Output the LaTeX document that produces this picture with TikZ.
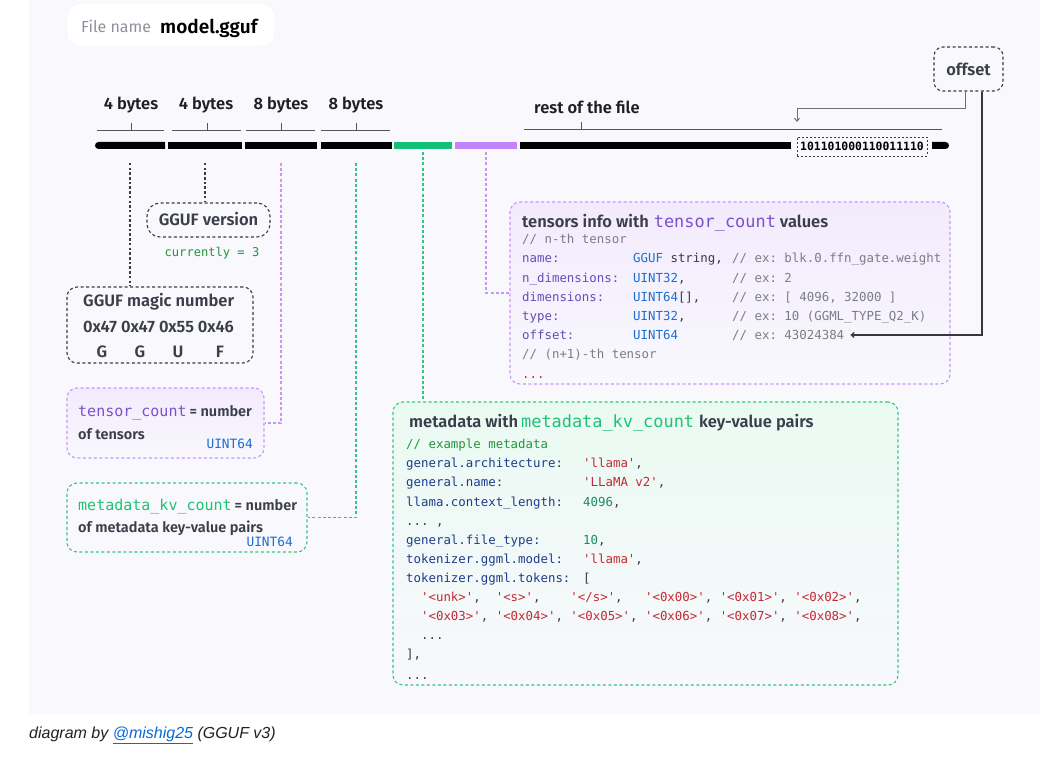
\documentclass[tikz,border=0pt]{standalone}
\usepackage{fontspec}
\IfFontExistsTF{Fira Sans SemiBold}{\setmainfont{Fira Sans}[BoldFont={Fira Sans SemiBold}]}{\setmainfont{Fira Sans}}
\setmonofont{DejaVu Sans Mono}
\newfontfamily\capfont{Liberation Sans}
\usetikzlibrary{arrows.meta,shapes.misc}
\definecolor{bgpanel}{RGB}{248,248,253}
\definecolor{txt}{RGB}{58,62,72}
\definecolor{lbltxt}{RGB}{30,32,38}
\definecolor{graytxt}{RGB}{140,145,155}
\definecolor{dkgray}{RGB}{60,60,66}
\definecolor{brkgray}{RGB}{85,85,90}
\definecolor{purp}{RGB}{192,132,252}
\definecolor{purpline}{RGB}{200,150,250}
\definecolor{purptxt}{RGB}{125,80,205}
\definecolor{purptint}{RGB}{243,235,253}
\definecolor{grn}{RGB}{18,192,122}
\definecolor{grnline}{RGB}{50,200,130}
\definecolor{grntxt}{RGB}{30,195,115}
\definecolor{grntint}{RGB}{234,250,242}
\definecolor{typeblue}{RGB}{30,110,205}
\definecolor{keypurp}{RGB}{100,78,185}
\definecolor{keyblue}{RGB}{30,60,140}
\definecolor{cmt}{RGB}{125,125,132}
\definecolor{codedark}{RGB}{55,58,66}
\definecolor{strred}{RGB}{195,40,52}
\definecolor{numgrn}{RGB}{25,140,95}
\definecolor{cmtgrn}{RGB}{35,150,60}
\definecolor{linkblue}{RGB}{9,105,218}
\definecolor{captxt}{RGB}{34,34,38}
\definecolor{ln1}{RGB}{110,110,115}
\definecolor{ln2}{RGB}{55,55,60}
\newcommand\hfont{\fontsize{16.5}{20}\selectfont\bfseries}
\newcommand\cfont{\fontsize{12.4}{15}\selectfont\ttfamily\frenchspacing}
\newcommand\titlemono{\fontsize{16.9}{20}\selectfont\ttfamily\mdseries}
\newcommand\boxmono{\fontsize{15}{18}\selectfont\ttfamily\mdseries}
\newcommand\boxsans{\fontsize{14.5}{17}\selectfont\bfseries}
\newcommand\tkey[1]{\makebox[111pt][l]{\color{keypurp}#1}}
\newcommand\ttype[2]{\makebox[99pt][l]{\color{typeblue}#1\color{codedark}#2}}
\newcommand\tcmt[1]{{\color{cmt}#1}}
\newcommand\mkey[1]{\makebox[177pt][l]{\color{keyblue}#1}}
\newcommand\mstr[1]{{\color{strred}#1}}
\newcommand\mnum[1]{{\color{numgrn}#1}}
\begin{document}
\begin{tikzpicture}[x=1pt,y=-1pt,
  seg/.style={rectangle, inner sep=0pt, outer sep=0pt, minimum height=7pt, fill=black},
  brk/.style={draw=brkgray, line width=0.9pt},
  lbl/.style={font=\hfont, text=lbltxt, inner sep=0pt, text height=11.4pt, text depth=0pt},
  head/.style={font=\hfont, text=txt, inner sep=0pt, text height=11.4pt, text depth=0pt},
  code/.style={font=\cfont, text=codedark, inner sep=0pt, text height=9pt, text depth=0pt, anchor=west},
  small/.style={inner sep=0pt, text=txt, text height=10.4pt, text depth=0pt, anchor=west},
  box/.style={rectangle, rounded corners=10pt, inner sep=0pt, line width=1.1pt, dash pattern=on 3pt off 2.5pt},
  blkbox/.style={box, draw=dkgray},
  purbox/.style={box, draw=purpline, top color=purptint, bottom color=bgpanel},
  grnbox/.style={box, draw=grnline, top color=grntint, bottom color=bgpanel},
  blkdash/.style={draw=dkgray, line width=1.2pt, dash pattern=on 2.5pt off 2.2pt},
  purdash/.style={draw=purpline, line width=1.4pt, dash pattern=on 3pt off 2.2pt},
  grndash/.style={draw=grnline, line width=1.4pt, dash pattern=on 3pt off 2.2pt},
  tip/.style={-{Straight Barb[length=3pt,width=5pt]}}
]
\useasboundingbox (0,0) rectangle (1064,759);
\fill[white] (0,0) rectangle (1064,759);
\fill[bgpanel] (29,0) rectangle (1040,714);

% file name
\node[fill=white, draw=black!4, rounded corners=13pt, minimum width=208pt, minimum height=43pt, inner sep=0pt] (fnbox) at (171,25) {};
\node[inner sep=0pt, anchor=west, text=graytxt, font=\fontsize{16}{19}\selectfont\mdseries, text height=11.4pt, text depth=0pt] (fnl) at (81,27) {File name};
\node[inner sep=0pt, anchor=west, text=black, font=\fontsize{19}{22}\selectfont\bfseries, text height=13.6pt, text depth=0pt] (fnv) at (160,27) {model.gguf};

% byte labels and brackets
\node[lbl] (b1) at (131,104) {4 bytes};
\node[lbl] (b2) at (206,104) {4 bytes};
\node[lbl] (b3) at (281,104) {8 bytes};
\node[lbl] (b4) at (356,104) {8 bytes};
\node[lbl, anchor=west] (rest) at (534,108) {rest of the file};
\draw[brk] (97,130) -- (164,130) (131,130) -- (131,123);
\draw[brk] (172,130) -- (241,130) (207,130) -- (207,123);
\draw[brk] (246,130) -- (315,130) (281,130) -- (281,123);
\draw[brk] (321,130) -- (390,130) (356,130) -- (356,123);
\draw[brk] (524,129) -- (942,129) (581,129) -- (581,122);

% the bar
\node[seg, rounded rectangle, rounded rectangle right arc=none, minimum width=70pt] (seg1) at (130,145.5) {};
\node[seg, minimum width=74pt] (seg2) at (205,145.5) {};
\node[seg, minimum width=72pt] (seg3) at (281,145.5) {};
\node[seg, minimum width=71pt] (seg4) at (356,145.5) {};
\node[seg, fill=grn, minimum width=58pt] (segg) at (423,145.5) {};
\node[seg, fill=purp, minimum width=62pt] (segp) at (486,145.5) {};
\node[seg, minimum width=271pt] (segr) at (655.5,145.5) {};
\node[rectangle, draw=dkgray, line width=0.9pt, dash pattern=on 2pt off 2pt, minimum width=130pt, minimum height=19pt, inner sep=0pt, font=\fontsize{11.4}{13}\selectfont\ttfamily\bfseries, text=black] (bits) at (862,146.5) {101101000110011110};
\node[seg, rounded rectangle, rounded rectangle left arc=none, minimum width=17pt] (sege) at (940.5,145.5) {};

% offset
\node[blkbox, rounded corners=9pt, minimum width=69pt, minimum height=44pt, font=\hfont, text=txt] (offset) at (968.5,69) {offset};
\coordinate (ptrbend) at (797,109);
\coordinate (ptr) at (797,122);

% boxes
\node[blkbox, rounded corners=13pt, minimum width=123pt, minimum height=34pt, font=\hfont, text=txt, text height=11.4pt, text depth=0pt] (version) at (208.5,220) {GGUF version};
\node[blkbox, minimum width=186pt, minimum height=76pt] (magic) at (160,325) {};
\node[purbox, minimum width=197pt, minimum height=70pt] (tcount) at (165.5,423) {};
\node[grnbox, top color=bgpanel, minimum width=240pt, minimum height=69pt] (kvcount) at (187,517.5) {};
\node[purbox, minimum width=440pt, minimum height=182pt] (tinfo) at (730,293) {};
\node[grnbox, minimum width=505pt, minimum height=283pt] (meta) at (645.5,543.5) {};

% connectors
\draw[blkdash] ([yshift=-14pt]seg1.south) -- (seg1.south |- magic.north);
\draw[blkdash] ([yshift=-14pt]seg2.south) -- (seg2.south |- version.north);
\draw[purdash] ([yshift=-14pt]seg3.south) |- (tcount.east);
\draw[grndash] ([yshift=-14pt]seg4.south) |- (kvcount.east);
\draw[grndash] ([yshift=-3pt]segg.south) -- (segg.south |- meta.north);
\draw[purdash] ([yshift=-3pt]segp.south) |- (tinfo.west);
\draw[ln1, line width=1pt, tip] ([xshift=-3.5pt]offset.south) |- (ptrbend) -- (ptr);

% version / magic texts
\node[inner sep=0pt, font=\fontsize{12.1}{14}\selectfont\ttfamily, text=cmtgrn, text height=8.8pt, text depth=0pt] (curr) at (212,252) {currently = 3};
\node[head, anchor=west] (mg1) at (83,301) {GGUF magic number};
\node[head, anchor=west] (mg2) at (83,327) {0x47 0x47 0x55 0x46};
\node[head] (mgA) at (102,352) {G};
\node[head] (mgB) at (140,352) {G};
\node[head] (mgC) at (178,352) {U};
\node[head] (mgD) at (220,352) {F};

% tensor_count box
\node[small] (tc1) at (78,411) {{\boxmono\color{purptxt}tensor\_count}\hspace{3pt}{\boxsans = number}};
\node[small, font=\boxsans] (tc2) at (78,434) {of tensors};
\node[inner sep=0pt, anchor=east, font=\fontsize{12.8}{15}\selectfont\ttfamily, text=typeblue, text height=9.3pt, text depth=0pt] (tc3) at (253,444) {UINT64};

% metadata_kv_count box
\node[small] (kv1) at (78,505) {{\boxmono\color{grntxt}metadata\_kv\_count}\hspace{3pt}{\boxsans = number}};
\node[small, font=\boxsans] (kv2) at (78,527) {of metadata key-value pairs};
\node[inner sep=0pt, anchor=east, font=\fontsize{12.8}{15}\selectfont\ttfamily, text=typeblue, text height=9.3pt, text depth=0pt] (kv3) at (293,542) {UINT64};

% tensors info
\node[head, anchor=west] (ttitle) at (522,222) {tensors info with\hspace{5pt}{\titlemono\color{purptxt}tensor\_count}\hspace{4pt}values};
\node[code] (t1) at (522,239) {\tcmt{// n-th tensor}};
\node[code] (t2) at (522,258) {\tkey{name:}\ttype{GGUF}{~string,}\tcmt{// ex: blk.0.ffn\_gate.weight}};
\node[code] (t3) at (522,278) {\tkey{n\_dimensions:}\ttype{UINT32}{,}\tcmt{// ex: 2}};
\node[code] (t4) at (522,297) {\tkey{dimensions:}\ttype{UINT64}{[],}\tcmt{// ex: [ 4096, 32000 ]}};
\node[code] (t5) at (522,316) {\tkey{type:}\ttype{UINT32}{,}\tcmt{// ex: 10 (GGML\_TYPE\_Q2\_K)}};
\node[code] (t6) at (522,335) {\tkey{offset:}\ttype{UINT64}{}\tcmt{// ex: 43024384}};
\node[code] (t7) at (522,354) {\tcmt{// (n+1)-th tensor}};
\node[code, text=strred] (t8) at (522,374) {...};
\draw[ln2, line width=1.1pt, tip] ([xshift=13.5pt]offset.south) |- ([xshift=6pt]t6.east);

% metadata
\node[head, anchor=west] (mtitle) at (409,422) {metadata with\hspace{3pt}{\titlemono\color{grntxt}metadata\_kv\_count}\hspace{5pt}key-value pairs};
\node[code, text=cmtgrn] (m1) at (406,444) {// example metadata};
\node[code] (m2) at (406,463) {\mkey{general.architecture:}\mstr{'llama'},};
\node[code] (m3) at (406,482) {\mkey{general.name:}\mstr{'LLaMA v2'},};
\node[code] (m4) at (406,502) {\mkey{llama.context\_length:}\mnum{4096},};
\node[code] (m5) at (406,521) {...~,};
\node[code] (m6) at (406,540) {\mkey{general.file\_type:}\mnum{10},};
\node[code] (m7) at (406,559) {\mkey{tokenizer.ggml.model:}\mstr{'llama'},};
\node[code] (m8) at (406,578) {\mkey{tokenizer.ggml.tokens:}[};
\node[code] (m9) at (406,597) {~~\mstr{'<unk>'},~~\mstr{'<s>'},~~~~\mstr{'</s>'},~~~\mstr{'<0x00>'},~\mstr{'<0x01>'},~\mstr{'<0x02>'},};
\node[code] (m10) at (406,616) {~~\mstr{'<0x03>'},~\mstr{'<0x04>'},~\mstr{'<0x05>'},~\mstr{'<0x06>'},~\mstr{'<0x07>'},~\mstr{'<0x08>'},};
\node[code] (m11) at (406,635) {~~...};
\node[code] (m12) at (406,654) {],};
\node[code] (m13) at (406,675) {...};

% caption
\node[inner sep=0pt, anchor=west, text=captxt, font=\capfont\itshape\fontsize{16}{19}\selectfont, text height=11.5pt, text depth=0pt] (cap) at (29,733) {diagram by \textcolor{linkblue}{\underline{@mishig25}} (GGUF v3)};
\end{tikzpicture}
\end{document}
